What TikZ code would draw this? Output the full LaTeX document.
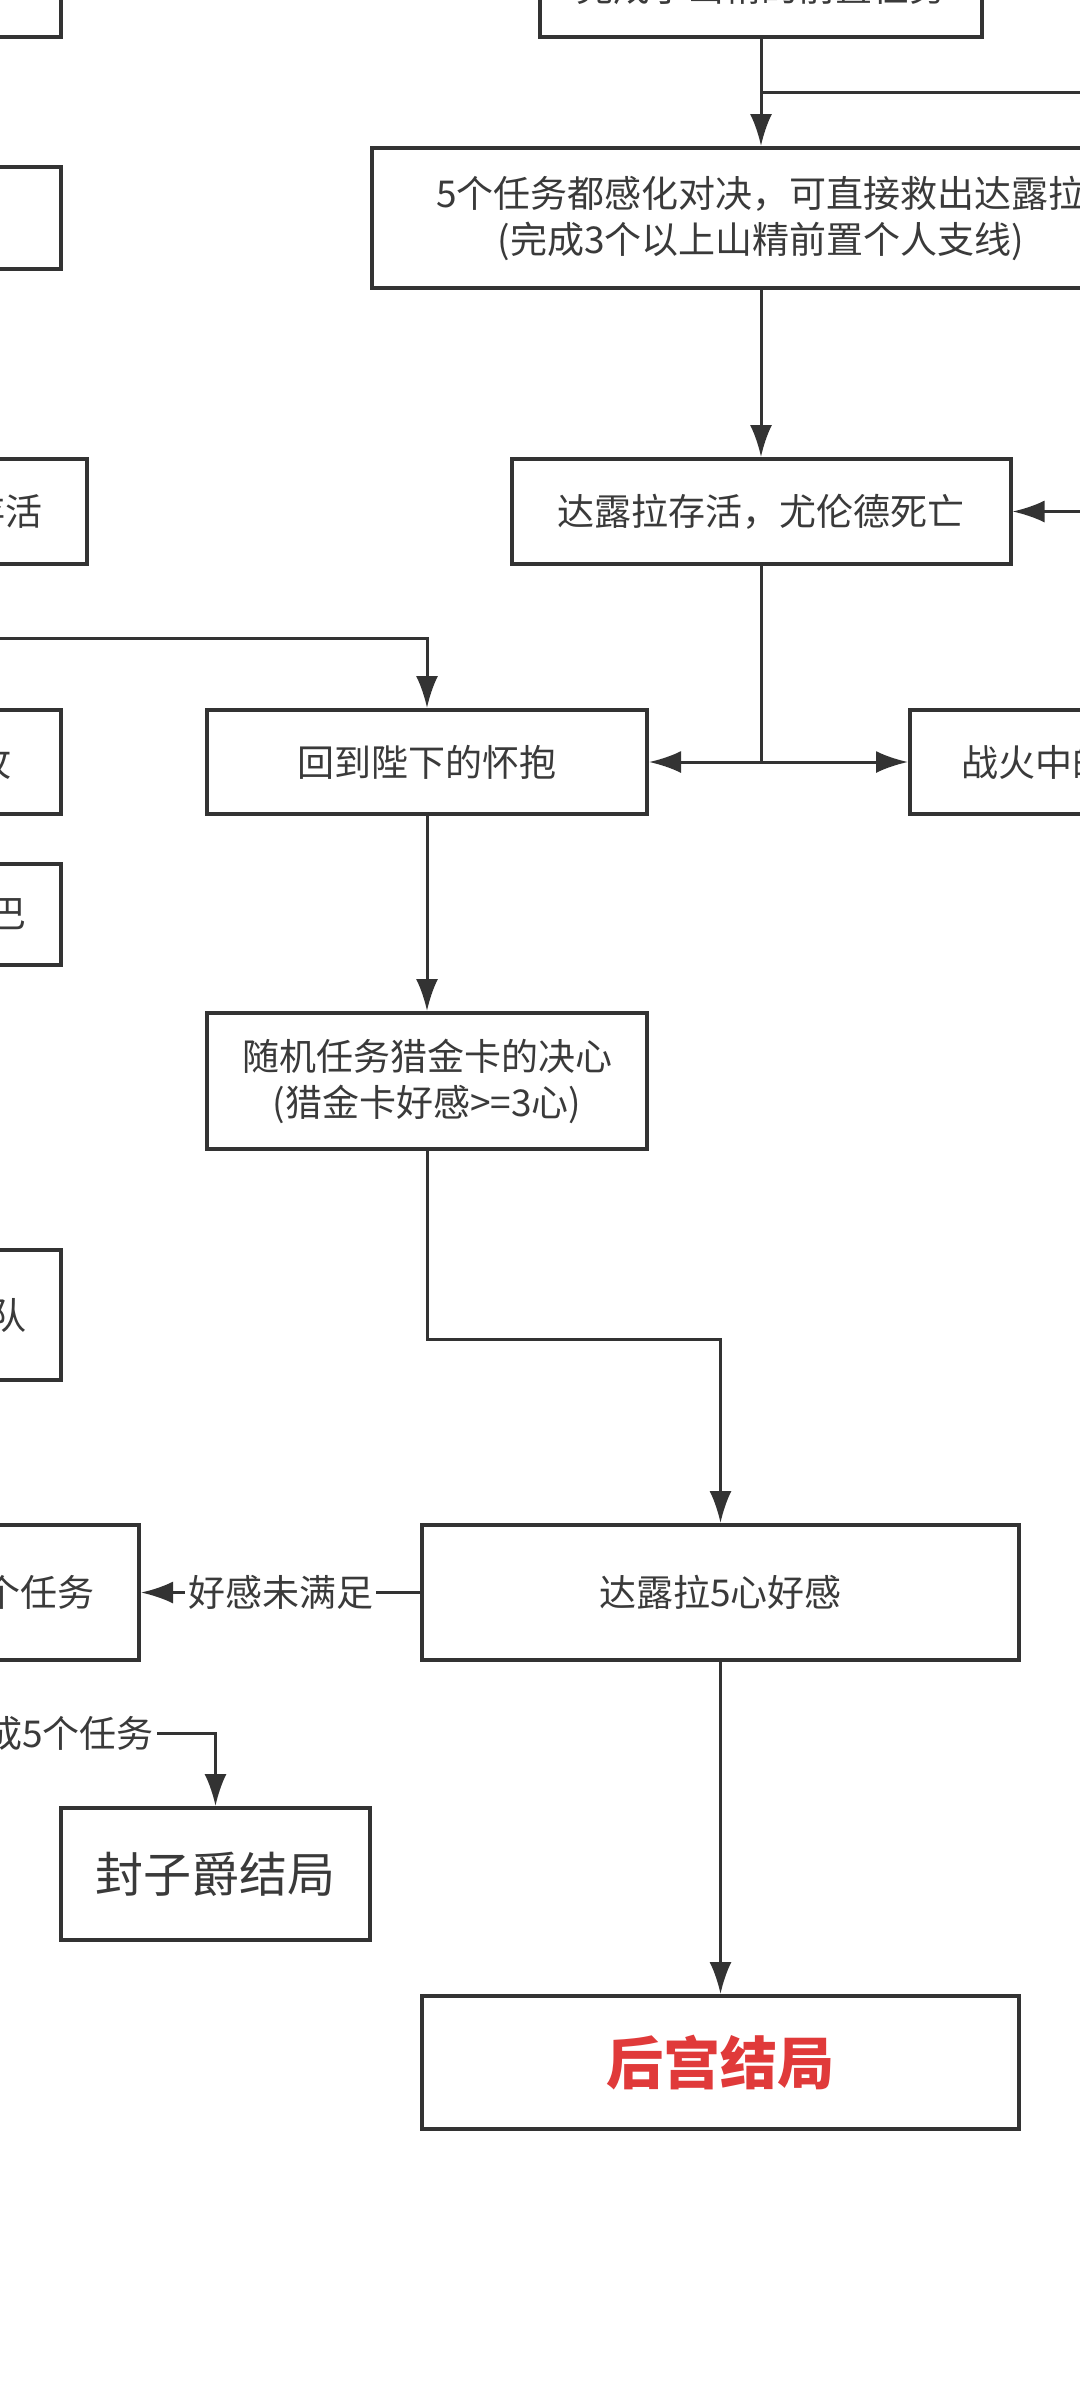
\documentclass[tikz,border=0pt]{standalone}
\usepackage{fontspec}
\setmainfont{Noto Sans CJK SC}
\usetikzlibrary{arrows.meta}
\definecolor{ln}{HTML}{333333}
\definecolor{tx}{HTML}{3A3A3A}
\definecolor{rd}{HTML}{E03A3A}
\tikzset{
  box/.style={draw=ln, line width=2pt, fill=white, inner sep=0pt, align=center, text=tx, font=\fontsize{18.5pt}{23pt}\selectfont},
  txt/.style={text=tx, inner sep=0pt, font=\fontsize{18.5pt}{23pt}\selectfont},
  conn/.style={draw=ln, line width=1.5pt},
  arr/.style={conn, -{Latex[length=16pt,width=11pt]}},
  lbl/.style={fill=white, text=tx, inner sep=1.5pt, font=\fontsize{18.5pt}{23pt}\selectfont},
}
\begin{document}
\begin{tikzpicture}[x=0.5pt,y=-0.5pt]
\useasboundingbox (0,0) rectangle (1080,2400);
\fill[white] (0,0) rectangle (1080,2400);
% main column
\node[box, minimum width=221pt, minimum height=47pt] (top) at (761,-10) {};
\node[txt] (topt) at (761,-13) {完成了山精的前置任务};
\node[box, minimum width=389pt, minimum height=70pt] (b2) at (761,218) {5个任务都感化对决，可直接救出达露拉\\(完成3个以上山精前置个人支线)};
\node[box, minimum width=249.5pt, minimum height=52.5pt] (b3) at (761,511.5) {达露拉存活，尤伦德死亡};
\node[box, minimum width=220pt, minimum height=52pt] (b4) at (427,762) {回到陛下的怀抱};
\node[box, minimum width=220pt, minimum height=52pt] (b5) at (1130,762) {};
\node[txt, anchor=west] (b5t) at (961,762) {战火中的};
\node[box, minimum width=220pt, minimum height=68pt] (b6) at (427,1081) {随机任务猎金卡的决心\\(猎金卡好感>=3心)};
\node[box, minimum width=298.5pt, minimum height=67.5pt] (b7) at (720.5,1592.5) {达露拉5心好感};
\node[box, minimum width=298.5pt, minimum height=66.5pt, text=rd, font=\fontsize{28.5pt}{32pt}\selectfont\bfseries] (b8) at (720.5,2062.5) {后宫结局};
\node[box, minimum width=154.5pt, minimum height=66pt, font=\fontsize{24pt}{28pt}\selectfont] (fzj) at (215.5,1874) {封子爵结局};
% left column (cut off)
\node[box, minimum width=180.5pt, minimum height=47pt] (L1) at (-119.5,-10) {};
\node[box, minimum width=180.5pt, minimum height=51pt] (L2) at (-119.5,218) {};
\node[box, minimum width=193.5pt, minimum height=52.5pt] (L3) at (-106.5,511.5) {};
\node[txt, anchor=east] (L3t) at (43,511.5) {存活};
\node[box, minimum width=180.5pt, minimum height=52pt] (L4) at (-119.5,762) {};
\node[txt, anchor=east] (L4t) at (12,762) {进攻};
\node[box, minimum width=180.5pt, minimum height=50.5pt] (L5) at (-119.5,914.5) {};
\node[txt, anchor=east] (L5t) at (27,914.5) {巴};
\node[box, minimum width=180.5pt, minimum height=65pt] (L6) at (-119.5,1315) {};
\node[txt, anchor=east] (L6t) at (27,1315) {队};
\node[box, minimum width=219.5pt, minimum height=67.5pt] (L7) at (-80.5,1592.5) {};
\node[txt, anchor=east] (L7t) at (95,1592.5) {完成5个任务};
% connectors
\coordinate (c3) at (1150,92);
\coordinate (c4) at (1150,511.5);
\coordinate (c2) at (-50,638);
\coordinate (c1) at (-250,1733);
\coordinate (sp) at (761,762);
\draw[arr] (top.south) -- (b2.north);
\draw[conn] (c3) -- (top.south |- c3);
\draw[arr] (b2.south) -- (b3.north);
\draw[arr] (c4) -- (b3.east);
\draw[conn] (b3.south) -- (sp);
\draw[arr] (sp) -- (b4.east);
\draw[arr] (sp) -- (b5.west);
\draw[arr] (c2) -- (b4.north |- c2) -- (b4.north);
\draw[arr] (b4.south) -- (b6.north);
\draw[arr] (b6.south) -- (427,1339) -- (720.5,1339) -- (b7.north);
\draw[arr] (b7.west) -- node[lbl] (lab1) {好感未满足} (L7.east);
\draw[arr] (b7.south) -- (b8.north);
\draw[arr] (c1) -- (fzj.north |- c1) -- (fzj.north);
\node[lbl] (lab2) at (51,1733) {完成5个任务};
\end{tikzpicture}
\end{document}
